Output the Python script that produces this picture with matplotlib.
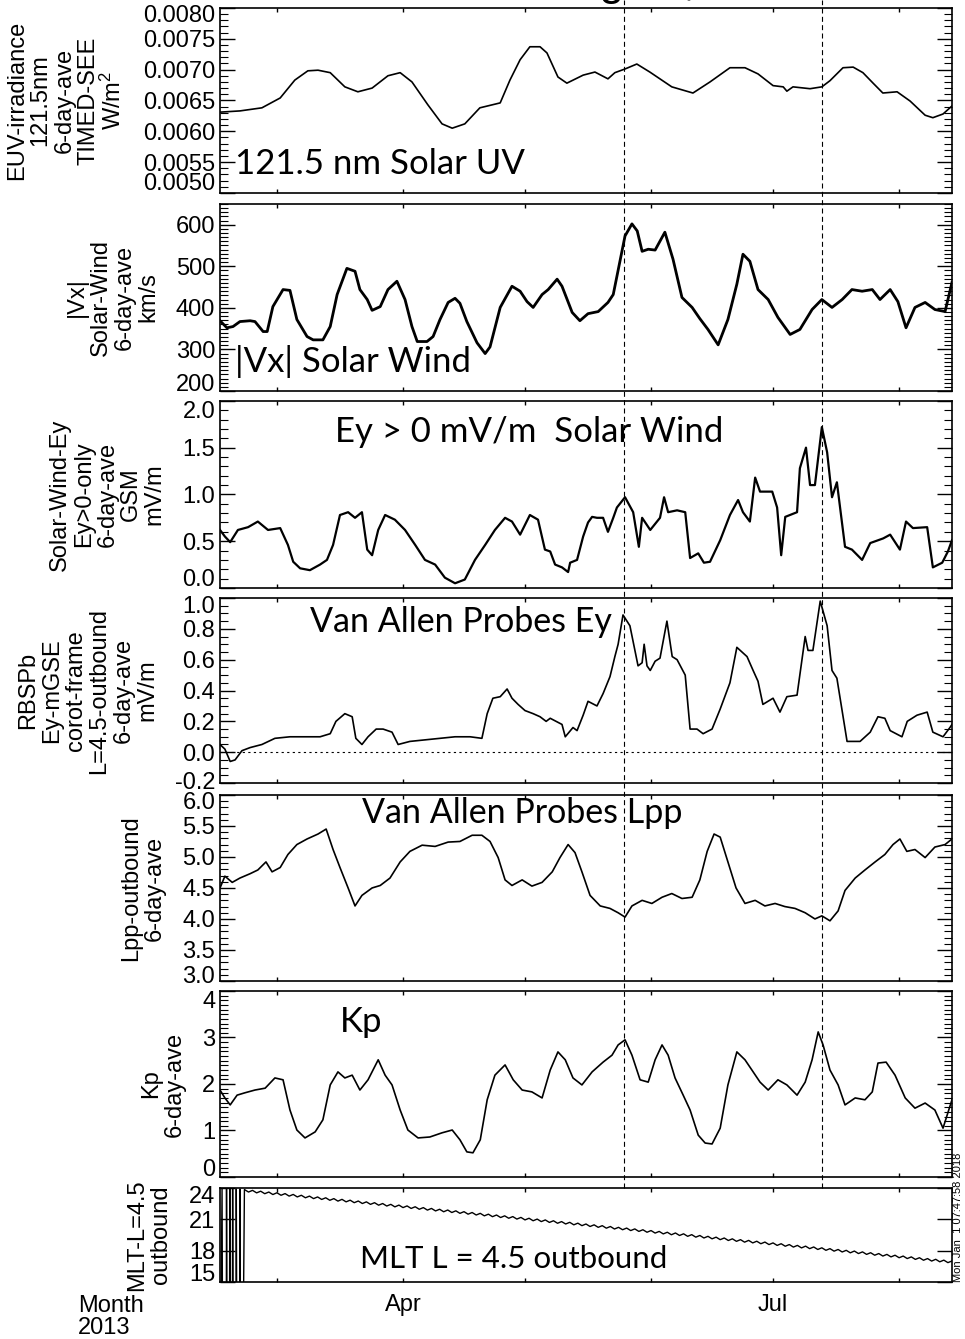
import numpy as np
import matplotlib
matplotlib.use('Agg')
import matplotlib.pyplot as plt
from matplotlib.ticker import MultipleLocator, FormatStrFormatter
from matplotlib.transforms import blended_transform_factory, ScaledTranslation
from matplotlib.lines import Line2D

plt.rcParams['font.family'] = ['Liberation Sans', 'DejaVu Sans']
plt.rcParams['axes.unicode_minus'] = False
plt.rcParams['mathtext.default'] = 'regular'

# 时间轴：2013 年的年积日 (day of year)
uv_doy = [46.0, 50.9, 56.3, 60.8, 64.4, 67.6, 70.1, 73.1, 76.7, 79.9, 83.4, 87.3, 90.3, 93.2,
          97.1, 100.6, 103.1, 106.2, 109.9, 114.9, 117.3, 119.8, 122.2, 124.7, 126.4, 129.1,
          131.3, 135.3, 138.2, 141.4, 143.1, 145.6, 148.5, 151.7, 157.1, 162.3, 166.5, 171.4,
          175.1, 178.3, 182.0, 184.5, 185.4, 186.9, 191.1, 194.0, 196.0, 199.2, 201.7, 204.1,
          206.6, 209.0, 212.5, 215.7, 219.4, 221.3, 223.8, 226.0]
uv_val = [.00631, .00633, .00638, .00654, .00683, .00698, .00699, .00695, .00672, .00664,
          .00670, .00690, .00695, .00680, .00643, .00612, .00605, .00612, .00638, .00646,
          .00683, .00716, .00737, .00737, .00727, .00688, .00678, .00691, .00696, .00685,
          .00695, .00701, .00709, .00696, .00672, .00662, .00680, .00703, .00703, .00693,
          .00674, .00672, .00665, .00672, .00669, .00672, .00682, .00703, .00704, .00695,
          .00678, .00662, .00664, .00649, .00626, .00622, .00628, .00641]

vx_doy = [46.0, 47.7, 49.2, 50.9, 53.4, 54.6, 56.6, 57.6, 59.0, 61.5, 63.2, 64.9, 67.4, 68.9,
          71.3, 73.1, 74.8, 77.2, 79.2, 80.4, 82.2, 83.4, 85.4, 87.3, 89.5, 91.5, 93.2, 94.5,
          96.9, 98.4, 100.1, 102.1, 103.8, 105.0, 106.7, 109.2, 111.2, 112.4, 114.9, 117.8,
          119.8, 121.5, 123.0, 125.2, 126.7, 128.9, 130.1, 132.6, 134.5, 136.5, 139.0, 141.4,
          142.7, 145.6, 147.3, 148.6, 149.8, 151.3, 153.0, 155.4, 157.4, 159.6, 162.1, 164.0,
          166.0, 168.5, 170.9, 173.1, 174.6, 176.3, 178.3, 180.8, 183.2, 186.2, 188.6, 191.6,
          194.0, 196.5, 199.0, 201.4, 203.9, 206.4, 208.3, 210.8, 212.7, 214.7, 216.9, 219.4,
          221.8, 224.3, 226.0]
vx_val = [369, 352, 355, 367, 369, 367, 343, 343, 403, 444, 442, 372, 331, 323,
          323, 355, 432, 495, 488, 444, 420, 394, 403, 444, 464, 420, 355, 319,
          319, 331, 372, 413, 423, 411, 367, 316, 290, 306, 401, 452,
          440, 415, 401, 432, 444, 469, 452, 389, 369, 386, 391, 413,
          432, 573, 602, 585, 536, 541, 539, 582, 517, 425, 401, 374,
          348, 311, 372, 457, 529, 512, 444, 420, 377, 336, 348, 396,
          420, 401, 420, 444, 440, 444, 420, 444, 415, 352, 401, 413,
          396, 391, 461]

ey_doy = [46.0, 47.2, 48.5, 50.4, 52.9, 55.3, 57.8, 60.8, 62.7, 64.0, 65.7, 68.1, 70.6, 72.3,
          73.8, 75.5, 77.5, 79.2, 80.9, 82.2, 83.4, 84.9, 86.6, 89.0, 91.5, 94.0, 96.4, 98.9,
          101.3, 103.8, 106.2, 108.7, 111.2, 113.6, 116.1, 117.8, 119.8, 122.2, 124.2, 125.9,
          127.2, 128.4, 130.1, 131.6, 132.1, 133.8, 135.3, 136.5, 137.5, 138.7, 140.2, 141.4,
          142.7, 143.6, 145.6, 147.6, 149.0, 149.8, 151.8, 154.2, 155.2, 156.2, 158.4, 160.4,
          161.6, 163.6, 165.0, 166.5, 169.0, 171.4, 173.4, 174.6, 176.3, 177.6, 178.8, 181.8,
          183.0, 184.0, 185.0, 187.9, 188.6, 190.1, 191.1, 192.3, 194.0, 195.3, 196.5, 197.7,
          199.7, 201.4, 203.9, 205.9, 209.1, 210.8, 213.2, 214.7, 216.4, 219.9, 221.3, 223.6,
          225.0, 226.0]
ey_val = [0.62, 0.55, 0.49, 0.62, 0.65, 0.71, 0.62, 0.64, 0.46, 0.28, 0.21, 0.19, 0.25, 0.30,
          0.46, 0.78, 0.81, 0.75, 0.81, 0.41, 0.35, 0.62, 0.78, 0.73, 0.62, 0.46, 0.30, 0.25,
          0.11, 0.05, 0.09, 0.30, 0.46, 0.62, 0.75, 0.71, 0.57, 0.78, 0.73, 0.41,
          0.39, 0.25, 0.22, 0.17, 0.27, 0.30, 0.55, 0.70, 0.76, 0.75, 0.75, 0.60,
          0.75, 0.86, 0.97, 0.81, 0.44, 0.75, 0.62, 0.75, 0.97, 0.81, 0.83, 0.81,
          0.32, 0.37, 0.27, 0.28, 0.51, 0.78, 0.94, 0.81, 0.71, 1.18, 1.03, 1.03,
          0.86, 0.35, 0.76, 0.81, 1.28, 1.50, 1.10, 1.10, 1.72, 1.45, 0.97, 1.13,
          0.44, 0.41, 0.30, 0.48, 0.53, 0.57, 0.41, 0.71, 0.64, 0.65, 0.22, 0.27,
          0.39, 0.51]

rb_doy = [46.0, 47.2, 48.5, 49.7, 51.4, 53.4, 56.3, 59.5, 63.2, 66.9, 70.6, 73.1, 74.5, 76.7,
          78.5, 79.4, 80.9, 82.4, 84.4, 86.1, 88.3, 89.8, 92.7, 96.4, 100.1, 103.8, 107.5,
          110.4, 111.7, 113.1, 114.9, 116.6, 117.8, 119.3, 121.0, 123.0, 124.7, 126.2,
          127.2, 130.1, 130.9, 132.8, 133.8, 135.3, 136.5, 138.7, 140.2, 141.9, 143.1, 143.9,
          145.1, 146.8, 148.8, 149.8, 150.3, 151.0, 151.8, 153.0, 154.2, 155.9, 157.2, 158.4,
          160.4, 161.6, 163.3, 164.8, 167.0, 169.0, 171.4, 173.1, 175.6, 177.1, 178.3, 179.5,
          182.0, 183.7, 185.4, 187.9, 189.9, 190.6, 191.8, 193.6, 195.3, 196.5, 197.7, 200.2,
          203.4, 205.9, 207.8, 209.5, 210.8, 213.7, 215.0, 217.4, 219.9, 221.3, 223.8, 225.5,
          226.0]
rb_val = [0.05, 0.02, -0.06, -0.05, 0.01, 0.03, 0.05, 0.09, 0.10, 0.10, 0.10, 0.12, 0.20, 0.25,
          0.23, 0.09, 0.05, 0.10, 0.15, 0.15, 0.13, 0.05, 0.07, 0.08, 0.09, 0.10, 0.10,
          0.09, 0.25, 0.35, 0.36, 0.41, 0.35, 0.31, 0.27, 0.25, 0.23, 0.20,
          0.22, 0.18, 0.10, 0.16, 0.14, 0.24, 0.33, 0.30, 0.38, 0.49, 0.62, 0.70,
          0.89, 0.82, 0.56, 0.58, 0.70, 0.56, 0.53, 0.59, 0.61, 0.85, 0.62, 0.60,
          0.50, 0.15, 0.15, 0.12, 0.15, 0.28, 0.45, 0.68, 0.62, 0.53, 0.46, 0.31,
          0.35, 0.26, 0.36, 0.37, 0.75, 0.66, 0.66, 0.98, 0.82, 0.53, 0.48, 0.07,
          0.07, 0.13, 0.23, 0.22, 0.14, 0.10, 0.20, 0.24, 0.26, 0.13, 0.10, 0.16,
          0.18]

lpp_doy = [46.0, 47.2, 49.0, 50.9, 53.4, 55.3, 57.3, 58.8, 60.8, 62.7, 64.9, 67.4, 70.1, 72.1,
           73.8, 75.5, 77.5, 79.2, 80.9, 83.4, 85.4, 87.8, 90.3, 92.7, 95.7, 98.9, 102.1, 105.0,
           108.0, 110.4, 112.4, 114.4, 116.1, 117.8, 120.3, 122.7, 125.2, 127.7, 129.6, 131.6,
           133.3, 135.0, 137.0, 139.5, 141.9, 143.9, 145.6, 147.3, 149.8, 152.2, 154.7, 157.1,
           159.6, 162.1, 164.0, 165.8, 167.5, 169.0, 170.9, 172.9, 175.1, 177.6, 180.0, 182.5,
           184.9, 187.4, 189.9, 192.3, 194.0, 196.0, 198.0, 199.7, 202.2, 204.6, 207.1, 209.5,
           211.5, 213.2, 214.9, 216.9, 219.4, 221.8, 224.3, 226.0]
lpp_val = [4.50, 4.69, 4.59, 4.66, 4.73, 4.79, 4.92, 4.76, 4.83, 5.04, 5.20, 5.29, 5.37, 5.45,
           5.12, 4.83, 4.50, 4.21, 4.38, 4.50, 4.54, 4.66, 4.92, 5.09, 5.19, 5.17, 5.24, 5.25,
           5.35, 5.35, 5.25, 4.99, 4.63, 4.54, 4.63, 4.53, 4.59, 4.76, 4.99, 5.20,
           5.07, 4.76, 4.38, 4.21, 4.17, 4.10, 4.03, 4.21, 4.30, 4.25, 4.35, 4.41,
           4.33, 4.35, 4.63, 5.09, 5.37, 5.32, 4.92, 4.50, 4.25, 4.30, 4.21, 4.25,
           4.20, 4.17, 4.10, 4.00, 4.05, 3.97, 4.13, 4.46, 4.66, 4.79, 4.92, 5.04,
           5.20, 5.29, 5.09, 5.12, 4.99, 5.16, 5.20, 5.29]

kp_doy = [46.0, 47.2, 48.5, 50.2, 52.1, 54.6, 57.1, 59.5, 61.5, 63.2, 64.9, 66.9, 69.4, 71.3,
          73.1, 75.0, 76.7, 78.5, 80.4, 82.4, 84.9, 86.6, 88.3, 90.3, 92.2, 94.7, 97.6, 100.6,
          103.1, 105.0, 106.7, 108.2, 110.0, 111.7, 113.6, 116.1, 118.1, 120.3, 122.7, 125.2,
          127.2, 129.1, 130.9, 132.8, 135.0, 137.5, 140.2, 142.4, 143.9, 145.6, 147.3, 149.3,
          151.3, 153.0, 154.7, 156.2, 157.9, 159.9, 161.6, 163.6, 165.3, 167.0, 169.0, 170.9,
          173.1, 175.1, 176.8, 178.8, 180.8, 183.2, 185.4, 187.9, 189.9, 191.6, 193.1, 194.3,
          196.0, 198.0, 199.7, 202.2, 204.6, 206.4, 207.8, 209.8, 212.0, 214.5, 216.9, 219.4,
          221.8, 223.8, 226.0]
kp_val = [1.87, 1.70, 1.55, 1.76, 1.81, 1.87, 1.91, 2.13, 2.09, 1.44, 1.01, 0.84, 0.97, 1.23,
          1.98, 2.26, 2.13, 2.19, 1.87, 2.09, 2.52, 2.19, 1.98, 1.44, 1.01, 0.84, 0.86, 0.95,
          1.01, 0.80, 0.54, 0.52, 0.80, 1.66, 2.19, 2.41, 2.09, 1.87, 1.83, 1.70,
          2.30, 2.69, 2.52, 2.13, 1.98, 2.26, 2.47, 2.62, 2.84, 2.95, 2.62, 2.09,
          2.04, 2.52, 2.84, 2.62, 2.13, 1.76, 1.44, 0.90, 0.73, 0.71, 1.05, 1.98,
          2.69, 2.52, 2.30, 2.04, 1.87, 2.09, 1.98, 1.76, 2.04, 2.52, 3.12, 2.84,
          2.30, 1.98, 1.55, 1.70, 1.66, 1.83, 2.45, 2.47, 2.19, 1.70, 1.48, 1.59,
          1.44, 1.05, 1.66]

# MLT：开头几天在 0/24 时之间跳变，之后每天一个点
mlt_doy = [46.0, 46.5, 46.7, 47.5, 47.6, 47.8, 48.3, 48.4, 48.6, 49.0, 49.1, 49.3, 49.9, 50.0,
           50.2, 50.8, 50.9, 51.1, 51.5] + list(range(52, 227))
mlt_val = [0.4, 23.9, 0.4, 0.3, 23.9, 0.3, 0.3, 23.9, 0.3, 0.2, 23.9, 0.2, 0.2, 23.9,
           0.2, 0.1, 23.9, 0.1, 0.1,
           23.85, 23.61, 23.77, 23.53, 23.69, 23.45, 23.61, 23.37, 23.54, 23.30,
           23.46, 23.22, 23.38, 23.14, 23.30, 23.06, 23.22, 22.98, 23.14, 22.90,
           23.06, 22.82, 22.98, 22.74, 22.91, 22.67, 22.83, 22.59, 22.75, 22.51,
           22.67, 22.43, 22.59, 22.35, 22.51, 22.27, 22.43, 22.19, 22.36, 22.12,
           22.28, 22.04, 22.20, 21.96, 22.12, 21.88, 22.04, 21.80, 21.96, 21.72,
           21.89, 21.65, 21.81, 21.57, 21.73, 21.49, 21.65, 21.41, 21.57, 21.33,
           21.49, 21.25, 21.41, 21.17, 21.33, 21.10, 21.26, 21.02, 21.18, 20.94,
           21.10, 20.86, 21.02, 20.78, 20.94, 20.70, 20.86, 20.62, 20.78, 20.55,
           20.71, 20.47, 20.63, 20.39, 20.55, 20.31, 20.47, 20.23, 20.39, 20.15,
           20.31, 20.07, 20.23, 20.00, 20.16, 19.92, 20.08, 19.84, 20.00, 19.76,
           19.92, 19.68, 19.84, 19.60, 19.76, 19.52, 19.69, 19.45, 19.61, 19.37,
           19.53, 19.29, 19.45, 19.21, 19.37, 19.13, 19.29, 19.05, 19.21, 18.97,
           19.13, 18.89, 19.05, 18.81, 18.98, 18.74, 18.90, 18.66, 18.82, 18.58,
           18.74, 18.50, 18.66, 18.42, 18.58, 18.34, 18.50, 18.26, 18.43, 18.19,
           18.35, 18.11, 18.27, 18.03, 18.19, 17.95, 18.11, 17.87, 18.03, 17.79,
           17.96, 17.72, 17.88, 17.64, 17.80, 17.56, 17.72, 17.48, 17.64, 17.40,
           17.56, 17.32, 17.48, 17.24, 17.40, 17.16, 17.32, 17.08, 17.24, 17.00,
           17.17, 16.93, 17.09, 16.85, 17.01]

event_doy = [145.4, 194.1]
month_doy = [60, 91, 121, 152, 182, 213]
month_lab = ['', 'Apr', '', '', 'Jul', '']

# 每个面板：数据, y 范围, 主刻度, 次刻度, 格式, y 轴标题, 面板内文字, 位置, 字号, 线宽
panels = [
    (uv_doy, uv_val, (0.0050, 0.0080), [0.0050, 0.0055, 0.0060, 0.0065, 0.0070, 0.0075, 0.0080],
     0.0001, '%.4f', 'EUV-irradiance\n121.5nm\n6-day-ave\nTIMED-SEE\nW/m$^2$',
     '121.5 nm Solar UV', (0.02, 0.10), 25, 1.2),
    (vx_doy, vx_val, (200, 650), [200, 300, 400, 500, 600], 10, '%d',
     '|Vx|\nSolar-Wind\n6-day-ave\nkm/s', '|Vx| Solar Wind', (0.02, 0.10), 25, 2.0),
    (ey_doy, ey_val, (0.0, 2.0), [0.0, 0.5, 1.0, 1.5, 2.0], 0.1, '%.1f',
     'Solar-Wind-Ey\nEy>0-only\n6-day-ave\nGSM\nmV/m', 'Ey > 0 mV/m  Solar Wind',
     (0.157, 0.78), 25, 1.6),
    (rb_doy, rb_val, (-0.2, 1.0), [-0.2, 0.0, 0.2, 0.4, 0.6, 0.8, 1.0], 0.05, '%.1f',
     'RBSPb\nEy-mGSE\ncorot-frame\nL=4.5-outbound\n6-day-ave\nmV/m', 'Van Allen Probes Ey',
     (0.123, 0.815), 24.5, 1.2),
    (lpp_doy, lpp_val, (3.0, 6.0), [3.0, 3.5, 4.0, 4.5, 5.0, 5.5, 6.0], 0.1, '%.1f',
     'Lpp-outbound\n6-day-ave', 'Van Allen Probes Lpp', (0.194, 0.85), 24.5, 1.2),
    (kp_doy, kp_val, (0, 4), [0, 1, 2, 3, 4], 0.1, '%d',
     'Kp\n6-day-ave', 'Kp', (0.164, 0.78), 25, 1.2),
    (mlt_doy, mlt_val, (15, 24), [15, 18, 21, 24], None, '%d',
     'MLT-L=4.5\noutbound', 'MLT L = 4.5 outbound', (0.191, 0.15), 22.5, 1.0),
]

# 各面板在画布中的位置 [left, bottom, width, height]
boxes = [
    [0.228, 0.8559, 0.7585, 0.1382],
    [0.228, 0.7080, 0.7585, 0.1397],
    [0.228, 0.5609, 0.7585, 0.1397],
    [0.228, 0.4152, 0.7585, 0.1382],
    [0.228, 0.2674, 0.7585, 0.1389],
    [0.228, 0.1210, 0.7585, 0.1389],
    [0.228, 0.0426, 0.7585, 0.0702],
]
# 顶端 / 底端刻度标签往里收的像素数
end_shift = [(6, 11), (0, 8), (9, 10), (7, 3), (6, 6), (9, 9), (7, 9)]

fig = plt.figure(figsize=(9.65, 13.39), dpi=100)
axes = []
for box, shift, (t, v, ylim, yt, ymin, fmt, ylab, note, npos, nsize, lw) in zip(boxes, end_shift, panels):
    ax = fig.add_axes(box)
    ax.plot(t, v, color='k', lw=lw)
    ax.set_xlim(46, 226)
    ax.set_ylim(*ylim)
    ax.set_yticks(yt)
    ax.yaxis.set_major_formatter(FormatStrFormatter(fmt))
    if ymin:
        ax.yaxis.set_minor_locator(MultipleLocator(ymin))
    ax.set_xticks(month_doy)
    ax.set_xticklabels([])
    ax.tick_params(axis='y', which='both', direction='in', left=True, right=True, labelsize=17)
    ax.tick_params(axis='y', which='major', length=11, width=1.0)
    ax.tick_params(axis='y', which='minor', length=5.5, width=0.8)
    ax.tick_params(axis='x', direction='in', top=True, bottom=True, length=3, width=1.0)
    for s in ax.spines.values():
        s.set_linewidth(1.2)
    # 端点的刻度标签往里收，避免压到相邻面板
    ticks = ax.yaxis.get_major_ticks()
    if yt[-1] == ylim[1] and shift[0]:
        lab = ticks[-1].label1
        lab.set_transform(lab.get_transform() + ScaledTranslation(0, -shift[0] / 100, fig.dpi_scale_trans))
    if yt[0] == ylim[0] and shift[1]:
        lab = ticks[0].label1
        lab.set_transform(lab.get_transform() + ScaledTranslation(0, shift[1] / 100, fig.dpi_scale_trans))
    ax.set_ylabel(ylab, fontsize=17, linespacing=1.1, labelpad=12)
    ax.text(npos[0], npos[1], note, transform=ax.transAxes, family=['Lato', 'DejaVu Sans'],
            fontsize=nsize, ha='left', va='baseline')
    axes.append(ax)

# RBSP Ey 面板的零线
axes[3].axhline(0.0, color='k', lw=0.8, ls=(0, (2, 3)))

axes[-1].set_xticklabels(month_lab)
axes[-1].tick_params(axis='x', labelsize=17, pad=9)

# 两个事件时刻的虚线，贯穿上面六个面板
tr = blended_transform_factory(axes[0].transData, fig.transFigure)
for d in event_doy:
    fig.add_artist(Line2D([d, d], [0.113, 1.0], transform=tr, color='k', lw=0.8,
                          ls=(0, (4.5, 3))))

fig.text(78 / 965, 1 - 1295 / 1339, 'Month\n2013', fontsize=17, ha='left', va='top',
         linespacing=1.0)
fig.text(958 / 965, 1 - 1282 / 1339, 'Mon Jan  1 07:47:58 2018', rotation=90, fontsize=8,
         ha='center', va='bottom')
fig.text(0.565, 1.0037, 'August, 2013', fontsize=32, ha='left', va='baseline')

fig.savefig('out.png', dpi=100)
